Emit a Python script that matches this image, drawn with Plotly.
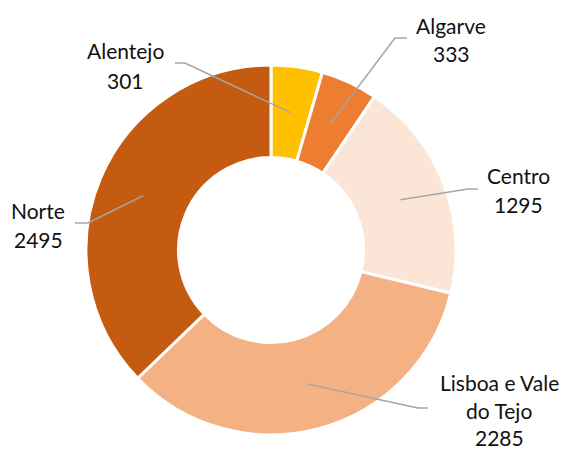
import math
import plotly.graph_objects as go

# ---- data ----
regions = ["Alentejo", "Algarve", "Centro", "Lisboa e Vale do Tejo", "Norte"]
values = [301, 333, 1295, 2285, 2495]
label_lines = [["Alentejo", "301"], ["Algarve", "333"], ["Centro", "1295"],
               ["Lisboa e Vale", "do Tejo", "2285"], ["Norte", "2495"]]
colors = ["#FFC000", "#ED7D31", "#FBE5D6", "#F4B183", "#C55A11"]

# ---- layout geometry (pixels) ----
W, H = 563, 450
cx, cy, R = 271, 250, 185
hole = 0.5
r_anchor = R * (1 + hole) / 2
# per label: bend point, end point, text center x, text line ys
label_layout = [
    dict(bend=(185, 63), end=(175, 63), tx=125, ys=[50, 80]),
    dict(bend=(395, 38), end=(407, 38), tx=451, ys=[25, 53]),
    dict(bend=(468, 189), end=(478, 189), tx=518, ys=[175, 204]),
    dict(bend=(418, 408), end=(428, 408), tx=499, ys=[382, 410, 437]),
    dict(bend=(88, 223), end=(75, 223), tx=38, ys=[210, 239]),
]

fig = go.Figure()
fig.add_trace(go.Pie(
    labels=regions, values=values, hole=hole, sort=False, direction="clockwise",
    rotation=0, marker=dict(colors=colors, line=dict(color="white", width=3)),
    textinfo="none", hoverinfo="label+value", showlegend=False,
    domain=dict(x=[(cx - R) / W, (cx + R) / W], y=[(H - cy - R) / H, (H - cy + R) / H]),
))
# invisible trace to activate the pixel-aligned cartesian axes
fig.add_trace(go.Scatter(x=[0, W], y=[0, H], mode="markers", marker=dict(opacity=0),
                         hoverinfo="skip", showlegend=False))

total = sum(values)
cum = 0
annotations = []
shapes = []
for v, lines, lay in zip(values, label_lines, label_layout):
    mid = (cum + v / 2) / total * 2 * math.pi
    cum += v
    ax = cx + r_anchor * math.sin(mid)
    ay = cy - r_anchor * math.cos(mid)
    path = f"M {ax:.2f},{ay:.2f} L {lay['bend'][0]},{lay['bend'][1]} L {lay['end'][0]},{lay['end'][1]}"
    shapes.append(dict(type="path", path=path, xref="x", yref="y", layer="above",
                       line=dict(color="#A6A6A6", width=1.5)))
    for t, yy in zip(lines, lay["ys"]):
        annotations.append(dict(x=lay["tx"], y=yy, xref="x", yref="y", text=t,
                                showarrow=False, xanchor="center", yanchor="middle",
                                font=dict(family="Lato", size=21, color="#111111")))

fig.update_layout(
    width=W, height=H, margin=dict(l=0, r=0, t=0, b=0),
    paper_bgcolor="white", plot_bgcolor="rgba(0,0,0,0)",
    xaxis=dict(range=[0, W], visible=False, fixedrange=True),
    yaxis=dict(range=[H, 0], visible=False, fixedrange=True),
    annotations=annotations, shapes=shapes,
)
fig.write_html("out.html", config={"displayModeBar": False},
               post_script="document.body.style.margin='0';")
